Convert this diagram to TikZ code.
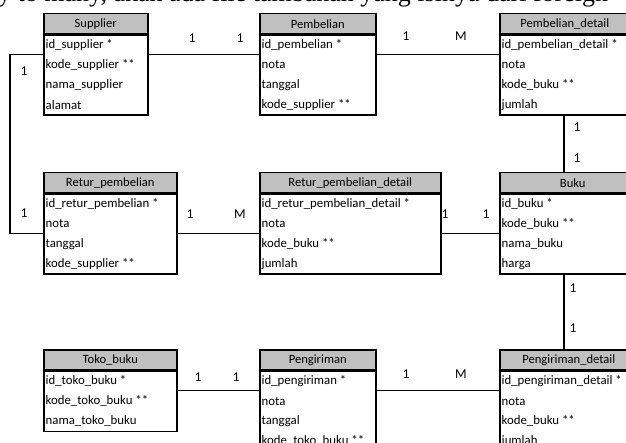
\documentclass[tikz,border=0pt]{standalone}
\usepackage{fontspec}
\setmainfont{Carlito}
\newfontfamily\serifdoc{Liberation Serif}
\definecolor{hdrgray}{RGB}{192,192,192}
\newcommand{\erbox}[6]{%
  \node[hdr, minimum width=#4pt] (#1-h) at (#2,#3) {#5};
  \node[body, minimum width=#4pt, minimum height=80pt] (#1) at (#1-h.south west) {};
  \foreach \t [count=\i] in {#6}
    \node[rowtxt] (#1-\i) at ([xshift=2.5pt,yshift=-10.5pt-20pt*(\i-1)]#1.north west) {\t};
}
\newcommand{\erboxthree}[6]{%
  \node[hdr, minimum width=#4pt] (#1-h) at (#2,#3) {#5};
  \node[body, minimum width=#4pt, minimum height=60pt] (#1) at (#1-h.south west) {};
  \foreach \t [count=\i] in {#6}
    \node[rowtxt] (#1-\i) at ([xshift=2.5pt,yshift=-10.5pt-20pt*(\i-1)]#1.north west) {\t};
}
\begin{document}
\begin{tikzpicture}[x=1pt,y=-1pt,
  hdr/.style={draw=black, line width=1.5pt, fill=hdrgray, inner sep=0pt,
    anchor=north west, minimum height=20pt, font=\fontsize{12.6}{13}\selectfont},
  body/.style={draw=black, line width=1.5pt, fill=white, inner sep=0pt, anchor=north west},
  rowtxt/.style={anchor=west, inner sep=0pt, font=\fontsize{12.8}{13}\selectfont},
  card/.style={inner sep=0pt, font=\fontsize{13.5}{14}\selectfont},
  conn/.style={draw=black, line width=1.5pt}]
\useasboundingbox (0,0) rectangle (626,443);
\begin{scope}
\clip (0,0) rectangle (626,443);
\node[anchor=base west, inner sep=0pt, font=\serifdoc\fontsize{26}{26}\selectfont] (topline) at (-2,2)
  {y to many, akan ada file tambahan yang isinya dari foreign};

\erbox{sup}{43}{13}{104}{Supplier}{id\_supplier *, kode\_supplier **, nama\_supplier, alamat}
\erbox{pem}{259}{13}{116}{Pembelian}{id\_pembelian *, nota, tanggal, kode\_supplier **}
\erbox{pd}{499}{13}{130}{Pembelian\_detail}{id\_pembelian\_detail *, nota, kode\_buku **, jumlah}

\erbox{rp}{43}{172}{133}{Retur\_pembelian}{id\_retur\_pembelian *, nota, tanggal, kode\_supplier **}
\erbox{rpd}{259}{172}{181}{Retur\_pembelian\_detail}{id\_retur\_pembelian\_detail *, nota, kode\_buku **, jumlah}
\erbox{buku}{499}{172}{146}{Buku}{id\_buku *, kode\_buku **, nama\_buku, harga}

\erboxthree{tb}{43}{349}{133}{Toko\_buku}{id\_toko\_buku *, kode\_toko\_buku **, nama\_toko\_buku}
\erbox{pg}{259}{349}{116}{Pengiriman}{id\_pengiriman *, nota, tanggal, kode\_toko\_buku **}
\erbox{pgd}{499}{349}{138}{Pengiriman\_detail}{id\_pengiriman\_detail *, nota, kode\_buku **, jumlah}

% connectors
\draw[conn] ([yshift=-20pt]sup.north east) -- ([yshift=-20pt]pem.north west);
\draw[conn] ([yshift=-20pt]pem.north east) -- ([yshift=-20pt]pd.north west);
\draw[conn] ([yshift=-20pt]sup.north west) -- ++(-33,0) |- ([yshift=-40pt]rp.north west);
\draw[conn] ([yshift=-40pt]rp.north east) -- ([yshift=-40pt]rpd.north west);
\draw[conn] ([yshift=-40pt]rpd.north east) -- ([yshift=-40pt]buku.north west);
\coordinate (vx) at (564,0);
\draw[conn] (vx |- pd.south) -- (vx |- buku-h.north);
\draw[conn] (vx |- buku.south) -- (vx |- pgd-h.north);
\draw[conn] ([yshift=-20pt]tb.north east) -- ([yshift=-20pt]pg.north west);
\draw[conn] ([yshift=-20pt]pg.north east) -- ([yshift=-20pt]pgd.north west);

% cardinalities
\node[card] (c1) at (192,38) {1};
\node[card] (c2) at (240,38) {1};
\node[card] (c3) at (406,36) {1};
\node[card] (c4) at (461,36) {M};
\node[card] (c5) at (24,71) {1};
\node[card] (c6) at (24,213) {1};
\node[card] (c7) at (190,214) {1};
\node[card] (c8) at (240,214) {M};
\node[card] (c9) at (445,214) {1};
\node[card] (c10) at (486,214) {1};
\node[card] (c11) at (577,127) {1};
\node[card] (c12) at (577,158) {1};
\node[card] (c13) at (573,288) {1};
\node[card] (c14) at (573,328) {1};
\node[card] (c15) at (198,377) {1};
\node[card] (c16) at (236,377) {1};
\node[card] (c17) at (406,374) {1};
\node[card] (c18) at (461,374) {M};
\end{scope}
\end{tikzpicture}
\end{document}
